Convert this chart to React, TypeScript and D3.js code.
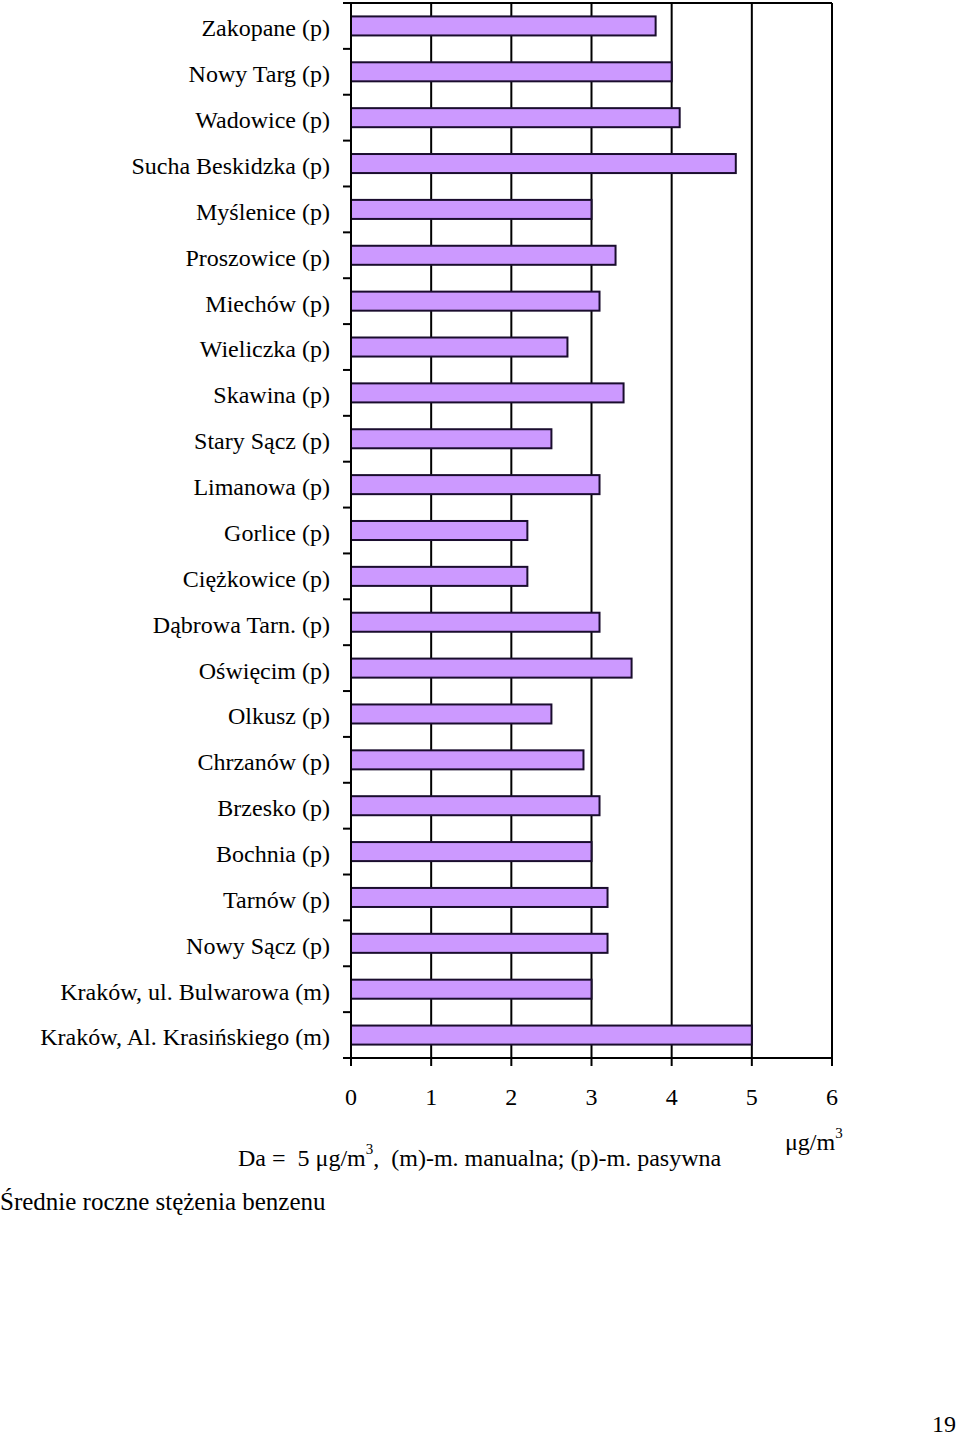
import React from "react";
import * as d3 from "d3";

const categories = [
  "Zakopane (p)",
  "Nowy Targ (p)",
  "Wadowice (p)",
  "Sucha Beskidzka (p)",
  "Myślenice (p)",
  "Proszowice (p)",
  "Miechów (p)",
  "Wieliczka (p)",
  "Skawina (p)",
  "Stary Sącz (p)",
  "Limanowa (p)",
  "Gorlice (p)",
  "Ciężkowice (p)",
  "Dąbrowa Tarn. (p)",
  "Oświęcim (p)",
  "Olkusz (p)",
  "Chrzanów (p)",
  "Brzesko (p)",
  "Bochnia (p)",
  "Tarnów (p)",
  "Nowy Sącz (p)",
  "Kraków, ul. Bulwarowa (m)",
  "Kraków, Al. Krasińskiego (m)",
];
const values = [3.8, 4.0, 4.1, 4.8, 3.0, 3.3, 3.1, 2.7, 3.4, 2.5, 3.1, 2.2, 2.2, 3.1, 3.5, 2.5, 2.9, 3.1, 3.0, 3.2, 3.2, 3.0, 5.0];
const xTicks = [0, 1, 2, 3, 4, 5, 6];

const FONT = "'Liberation Serif', 'Times New Roman', serif";

export default function App() {
  const left = 351;
  const right = 832;
  const top = 3;
  const bottom = 1058;
  const x = d3.scaleLinear().domain([0, 6]).range([left, right]);
  const y = d3.scaleBand<string>().domain(categories).range([top, bottom]).paddingInner(0).paddingOuter(0);
  const bw = y.bandwidth();
  const barH = bw * 0.415;
  const boundaries = d3.range(categories.length + 1).map((i) => top + i * bw);

  return (
    <svg
      width={960}
      height={1436}
      style={{ position: "absolute", left: 0, top: 0, background: "#fff" }}
      fontFamily={FONT}
    >
      {/* grid lines */}
      {xTicks.slice(1).map((t) => (
        <line key={"g" + t} x1={x(t)} x2={x(t)} y1={top} y2={bottom} stroke="#000" strokeWidth={2} />
      ))}
      {/* top border */}
      <line x1={left} x2={right} y1={top} y2={top} stroke="#000" strokeWidth={2} />
      {/* bars */}
      {categories.map((c, i) => (
        <rect
          key={c}
          x={x(0)}
          y={(y(c) as number) + (bw - barH) / 2}
          width={x(values[i]) - x(0)}
          height={barH}
          fill="#CC99FF"
          stroke="#1a0d2e"
          strokeWidth={2}
        />
      ))}
      {/* y axis */}
      <line x1={left} x2={left} y1={top} y2={bottom} stroke="#000" strokeWidth={2} />
      {boundaries.map((b, i) => (
        <line key={"yt" + i} x1={left - 8} x2={left} y1={b} y2={b} stroke="#000" strokeWidth={2} />
      ))}
      {categories.map((c) => (
        <text
          key={"l" + c}
          x={330}
          y={(y(c) as number) + bw / 2 + 2}
          dy="0.35em"
          textAnchor="end"
          fontSize={24}
          fill="#000"
        >
          {c}
        </text>
      ))}
      {/* x axis */}
      <line x1={left} x2={right} y1={bottom} y2={bottom} stroke="#000" strokeWidth={2} />
      {xTicks.map((t) => (
        <g key={"xt" + t}>
          <line x1={x(t)} x2={x(t)} y1={bottom} y2={bottom + 8} stroke="#000" strokeWidth={2} />
          <text x={x(t)} y={1105} textAnchor="middle" fontSize={24} fill="#000">
            {t}
          </text>
        </g>
      ))}
      {/* unit */}
      <text x={785} y={1150} fontSize={24} fill="#000">
        μg/m
        <tspan fontSize={15} dy={-12}>3</tspan>
      </text>
      {/* note */}
      <text x={238} y={1166} fontSize={24} fill="#000" xmlSpace="preserve">
        Da =  5 μg/m<tspan fontSize={15} dy={-12}>3</tspan>
        <tspan dy={12}>,  (m)-m. manualna; (p)-m. pasywna</tspan>
      </text>
      {/* title */}
      <text x={0} y={1210} fontSize={25} fill="#000">
        Średnie roczne stężenia benzenu
      </text>
      {/* page number */}
      <text x={956} y={1432} textAnchor="end" fontSize={24} fill="#000">
        19
      </text>
    </svg>
  );
}
